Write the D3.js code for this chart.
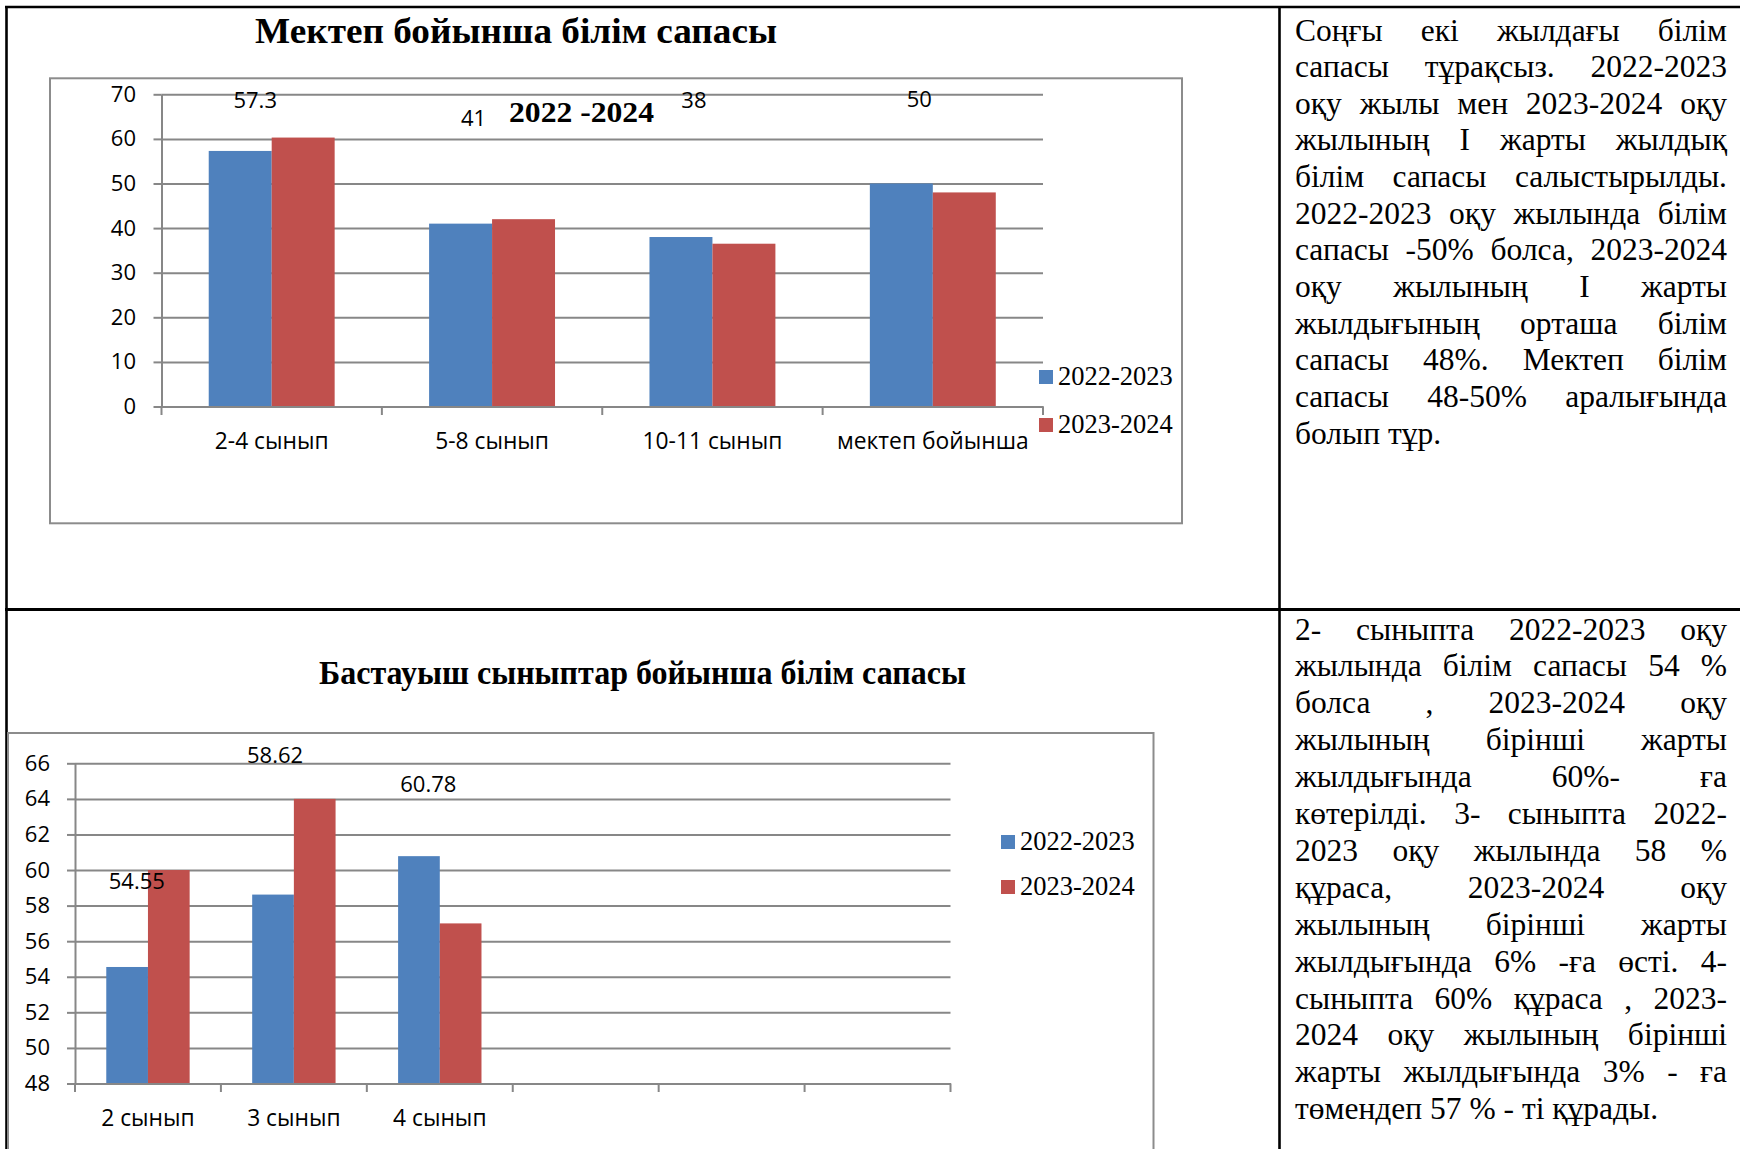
<!DOCTYPE html>
<html><head><meta charset="utf-8">
<script src="https://cdn.jsdelivr.net/npm/d3@7"></script>
<style>
body{margin:0;background:#fff;}
#wrap{position:relative;width:1740px;height:1149px;overflow:hidden;background:#fff;}
svg{position:absolute;left:0;top:0;}
.para{position:absolute;font-family:'Liberation Serif','Times New Roman',serif;font-size:31.5px;color:#000;}
.para div{text-align:justify;text-align-last:justify;}
.para div.last{text-align-last:left;}
</style></head><body><div id="wrap"></div>
<script>
// ---------------- data ----------------
const seriesNames = ["2022-2023", "2023-2024"];

const schoolTitle = "Мектеп бойынша білім сапасы";
const schoolSubtitle = "2022 -2024";
const schoolCategories = ["2-4 сынып", "5-8 сынып", "10-11 сынып", "мектеп бойынша"];
const school2022 = [57.3, 41, 38, 50];
const school2023 = [60.3, 42, 36.5, 48];
const schoolTicks = [0, 10, 20, 30, 40, 50, 60, 70];

const primaryTitle = "Бастауыш сыныптар бойынша білім сапасы";
const primaryCategories = ["2 сынып", "3 сынып", "4 сынып", "", "", ""];
const primary2022 = [54.55, 58.62, 60.78];
const primary2023 = [60, 64, 57];
const primaryTicks = [48, 50, 52, 54, 56, 58, 60, 62, 64, 66];

const textTop = [
  "Соңғы екі жылдағы білім",
  "сапасы тұрақсыз. 2022-2023",
  "оқу жылы мен 2023-2024 оқу",
  "жылының І жарты жылдық",
  "білім сапасы салыстырылды.",
  "2022-2023 оқу жылында білім",
  "сапасы -50% болса, 2023-2024",
  "оқу жылының І жарты",
  "жылдығының орташа білім",
  "сапасы 48%. Мектеп білім",
  "сапасы 48-50% аралығында",
  "болып тұр."
];
const textBottom = [
  "2- сыныпта 2022-2023 оқу",
  "жылында білім сапасы 54 %",
  "болса , 2023-2024 оқу",
  "жылының бірінші жарты",
  "жылдығында 60%- ға",
  "көтерілді. 3- сыныпта 2022-",
  "2023 оқу жылында 58 %",
  "құраса, 2023-2024 оқу",
  "жылының бірінші жарты",
  "жылдығында 6% -ға өсті. 4-",
  "сыныпта 60% құраса , 2023-",
  "2024 оқу жылының бірінші",
  "жарты жылдығында 3% - ға",
  "төмендеп 57 % - ті құрады."
];

// ---------------- layout ----------------
const W = 1740, H = 1149;
const colors = ["#4F81BD", "#C0504D"];
const gridColor = "#878787";
const sansFont = "'Open Sans', 'Noto Sans', sans-serif";
const serifFont = "'Liberation Serif', 'Times New Roman', serif";

const wrap = d3.select("#wrap");
const svg = wrap.append("svg").attr("width", W).attr("height", H);

// table borders
const borders = svg.append("g").attr("stroke", "#000").attr("stroke-width", 2.6);
borders.append("line").attr("x1", 5).attr("x2", W).attr("y1", 7).attr("y2", 7);
borders.append("line").attr("x1", 6.5).attr("x2", 6.5).attr("y1", 6).attr("y2", H);
borders.append("line").attr("x1", 1279.5).attr("x2", 1279.5).attr("y1", 6).attr("y2", H);
borders.append("line").attr("x1", 5).attr("x2", W).attr("y1", 609.5).attr("y2", 609.5).attr("stroke-width", 3);

function drawChart(o) {
  const g = svg.append("g");
  // chart frame
  g.append("rect").attr("x", o.box[0]).attr("y", o.box[1]).attr("width", o.box[2]).attr("height", o.box[3])
    .attr("fill", "none").attr("stroke", "#8c8c8c").attr("stroke-width", 2);

  const x = d3.scaleBand().domain(d3.range(o.categories.length)).range(o.xRange).paddingInner(0).paddingOuter(0);
  const x1 = d3.scaleBand().domain([0, 1]).range([0, x.bandwidth()]).paddingInner(0).paddingOuter(0.75);
  const y = d3.scaleLinear().domain(o.domain).range(o.yRange);
  const width = o.xRange[1] - o.xRange[0];

  // gridlines
  const grid = g.append("g").attr("transform", `translate(${o.xRange[0]},0)`)
    .call(d3.axisLeft(y).tickValues(o.ticks).tickSize(-width).tickSizeOuter(0).tickFormat(""));
  grid.select(".domain").remove();
  grid.selectAll("line").attr("stroke", gridColor).attr("stroke-width", 2);

  // bars
  o.series.forEach((vals, s) => {
    g.append("g").selectAll("rect").data(vals).join("rect")
      .attr("x", (d, i) => x(i) + x1(s))
      .attr("y", d => y(d))
      .attr("width", x1.bandwidth())
      .attr("height", d => y(o.domain[0]) - y(d))
      .attr("fill", colors[s]);
  });

  // y axis
  const ya = g.append("g").attr("transform", `translate(${o.xRange[0]},0)`)
    .call(d3.axisLeft(y).tickValues(o.ticks).tickSize(8).tickSizeOuter(0).tickPadding(o.yPad).tickFormat(d3.format("d")));
  ya.select(".domain").attr("stroke", gridColor).attr("stroke-width", 2);
  ya.selectAll(".tick line").attr("stroke", gridColor).attr("stroke-width", 2);
  ya.selectAll("text").attr("font-family", sansFont).attr("font-size", o.fontSize).attr("fill", "#000");

  // x axis
  const xa = g.append("g").attr("transform", `translate(0,${o.yRange[0]})`)
    .call(d3.axisBottom(x).tickSize(0).tickSizeOuter(0).tickFormat(i => o.categories[i]));
  xa.select(".domain").attr("stroke", gridColor).attr("stroke-width", 2);
  xa.selectAll("text").attr("font-family", sansFont).attr("font-size", o.xFontSize).attr("fill", "#000")
    .attr("y", o.xLabelY).attr("dy", 0);
  // category boundary ticks
  const bounds = d3.range(o.categories.length).map(i => x(i)).concat([x.range()[1]]);
  g.append("g").selectAll("line").data(bounds).join("line")
    .attr("x1", d => d).attr("x2", d => d)
    .attr("y1", o.yRange[0]).attr("y2", o.yRange[0] + 8.5)
    .attr("stroke", gridColor).attr("stroke-width", 2);

  // data labels (first series)
  g.append("g").selectAll("text").data(o.series[0]).join("text")
    .attr("x", (d, i) => x(i) + x1(0) + x1.bandwidth() / 2 + o.labelDx[i])
    .attr("y", (d, i) => y(o.domain[1]) + o.labelDy[i])
    .attr("dominant-baseline", "central")
    .attr("text-anchor", "middle")
    .attr("font-family", sansFont).attr("font-size", o.fontSize).attr("fill", "#000")
    .text(d => String(d));

  // legend
  const lg = g.append("g");
  seriesNames.forEach((name, s) => {
    lg.append("rect").attr("x", o.legend[0]).attr("y", o.legend[1] + s * o.legend[2])
      .attr("width", 14).attr("height", 14).attr("fill", colors[s]);
    lg.append("text").attr("x", o.legend[0] + 19).attr("y", o.legend[1] + 15 + s * o.legend[2])
      .attr("font-family", serifFont).attr("font-size", 26.5).attr("fill", "#000").text(name);
  });
  return {x, y};
}

// top chart
svg.append("text").attr("x", 516).attr("y", 43).attr("text-anchor", "middle")
  .attr("font-family", serifFont).attr("font-weight", "bold").attr("font-size", 35)
  .attr("textLength", 522).attr("lengthAdjust", "spacingAndGlyphs").text(schoolTitle);

drawChart({
  categories: schoolCategories,
  series: [school2022, school2023],
  ticks: schoolTicks,
  domain: [0, 70],
  xRange: [161.5, 1043],
  yRange: [406.5, 94.3],
  box: [50, 78.3, 1132, 445],
  yPad: 17.5,
  xLabelY: 42,
  fontSize: 22,
  xFontSize: 22.8,
  labelDx: [15, 13, 13, 18],
  labelDy: [5, 22.3, 4.7, 4],
  legend: [1039, 370, 48]
});

svg.append("text").attr("x", 509).attr("y", 122)
  .attr("font-family", serifFont).attr("font-weight", "bold").attr("font-size", 30)
  .attr("textLength", 145).attr("lengthAdjust", "spacingAndGlyphs").text(schoolSubtitle);

// bottom chart
svg.append("text").attr("x", 642.5).attr("y", 684).attr("text-anchor", "middle")
  .attr("font-family", serifFont).attr("font-weight", "bold").attr("font-size", 33)
  .attr("textLength", 647).attr("lengthAdjust", "spacingAndGlyphs").text(primaryTitle);

drawChart({
  categories: primaryCategories,
  series: [primary2022, primary2023],
  ticks: primaryTicks,
  domain: [48, 66],
  xRange: [75, 950.5],
  yRange: [1083.5, 763.3],
  box: [8, 733, 1145.5, 480],
  yPad: 17,
  xLabelY: 42.5,
  fontSize: 22,
  xFontSize: 22.8,
  labelDx: [9.7, 2, 9.4],
  labelDy: [116.7, -9.8, 19.2],
  legend: [1001, 835, 45]
});

// text columns
function para(lines, top, lh) {
  const p = wrap.append("div").attr("class", "para")
    .style("left", "1295px").style("top", top + "px").style("width", "432px")
    .style("line-height", lh + "px");
  p.selectAll("div").data(lines).join("div")
    .attr("class", (d, i) => i === lines.length - 1 ? "last" : null)
    .text(d => d);
}
para(textTop, 12.5, 36.65);
para(textBottom, 611.5, 36.9);
</script>
</body></html>
